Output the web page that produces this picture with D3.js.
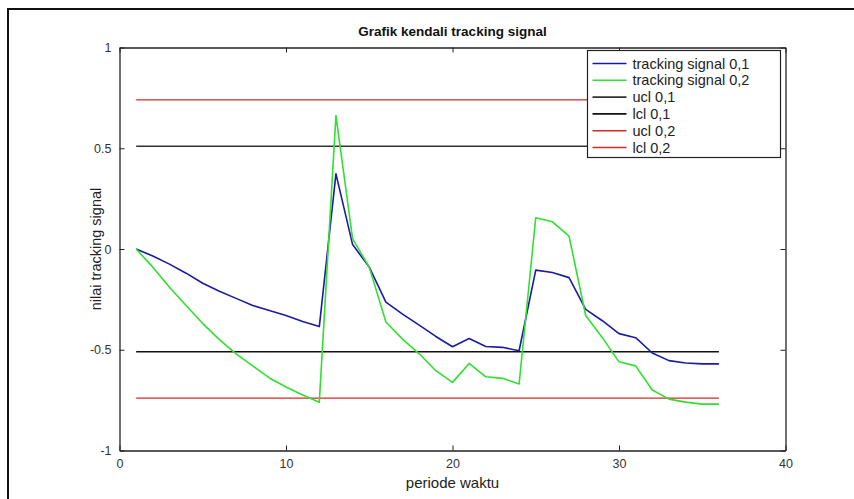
<!DOCTYPE html>
<html>
<head>
<meta charset="utf-8">
<script src="https://cdn.jsdelivr.net/npm/d3@7"></script>
<style>
  body { margin: 0; background: #fff; }
  svg { display: block; font-family: "Liberation Sans", Arial, sans-serif; }
</style>
</head>
<body>
<svg id="chart" width="854" height="499"></svg>
<script>
// periods 1..36
const periods = d3.range(1, 37);

// tracking signal alpha 0,1
const ts01 = [0, -0.035, -0.075, -0.12, -0.17, -0.21, -0.245, -0.28, -0.305, -0.33, -0.36, -0.385,
  0.373, 0.022, -0.09, -0.264, -0.323, -0.378, -0.434, -0.485, -0.444, -0.484, -0.488, -0.505,
  -0.105, -0.117, -0.142, -0.30, -0.356, -0.42, -0.44, -0.516, -0.554, -0.566, -0.57, -0.57];

// tracking signal alpha 0,2
const ts02 = [0, -0.09, -0.19, -0.28, -0.37, -0.45, -0.52, -0.58, -0.64, -0.685, -0.725, -0.76,
  0.662, 0.05, -0.09, -0.362, -0.447, -0.52, -0.604, -0.662, -0.568, -0.634, -0.642, -0.67,
  0.155, 0.135, 0.064, -0.33, -0.44, -0.56, -0.58, -0.70, -0.745, -0.76, -0.77, -0.77];

// control limits
const limitNames = ["ucl 0,1", "lcl 0,1", "ucl 0,2", "lcl 0,2"];
const limitValues = [0.51, -0.51, 0.74, -0.74];

const seriesNames = ["tracking signal 0,1", "tracking signal 0,2"];
const xTicks = [0, 10, 20, 30, 40];
const yTicks = [-1, -0.5, 0, 0.5, 1];

const colors = {
  "tracking signal 0,1": "#1a1aa6",
  "tracking signal 0,2": "#2fe02f",
  "ucl 0,1": "#333333",
  "lcl 0,1": "#111111",
  "ucl 0,2": "#d42a2a",
  "lcl 0,2": "#d42a2a"
};

const svg = d3.select("#chart");

// outer frame (runs off the right and bottom edges)
svg.append("rect")
  .attr("x", 8).attr("y", 9)
  .attr("width", 900).attr("height", 600)
  .attr("fill", "none").attr("stroke", "#111").attr("stroke-width", 2);

const plotL = 119.5, plotR = 785.5, plotT = 47.5, plotB = 450.5;

const x = d3.scaleLinear().domain([0, 40]).range([plotL, plotR]);
const y = d3.scaleLinear().domain([-1, 1]).range([plotB, plotT]);

// title
svg.append("text")
  .attr("x", (plotL + plotR) / 2)
  .attr("y", 36)
  .attr("text-anchor", "middle")
  .attr("font-size", "13.5px")
  .attr("font-weight", "bold")
  .attr("fill", "#111")
  .text("Grafik kendali tracking signal");

// axes, ticks inside like the Octave box
const axisBottom = svg.append("g")
  .attr("transform", "translate(0," + plotB + ")")
  .call(d3.axisBottom(x).tickValues(xTicks).tickSizeInner(-5).tickSizeOuter(0).tickPadding(9));
const axisLeft = svg.append("g")
  .attr("transform", "translate(" + plotL + ",0)")
  .call(d3.axisLeft(y).tickValues(yTicks).tickSizeInner(-5).tickSizeOuter(0).tickPadding(8)
    .tickFormat(d => d === 0 ? "0" : String(d)));
const axisTop = svg.append("g")
  .attr("transform", "translate(0," + plotT + ")")
  .call(d3.axisTop(x).tickValues(xTicks).tickSizeInner(-5).tickSizeOuter(0).tickFormat(""));
const axisRight = svg.append("g")
  .attr("transform", "translate(" + plotR + ",0)")
  .call(d3.axisRight(y).tickValues(yTicks).tickSizeInner(-5).tickSizeOuter(0).tickFormat(""));

[axisBottom, axisLeft, axisTop, axisRight].forEach(g => {
  g.select(".domain").attr("stroke", "#222").attr("stroke-width", 1.3);
  g.selectAll(".tick line").attr("stroke", "#222");
  g.selectAll(".tick text").attr("font-size", "12.5px").attr("fill", "#333")
    .attr("font-family", "\"Liberation Sans\", Arial, sans-serif");
});

// axis labels
svg.append("text")
  .attr("x", (plotL + plotR) / 2)
  .attr("y", 488)
  .attr("text-anchor", "middle")
  .attr("font-size", "15px")
  .attr("fill", "#222")
  .text("periode waktu");

svg.append("text")
  .attr("transform", "translate(101," + (plotT + plotB) / 2 + ") rotate(-90)")
  .attr("text-anchor", "middle")
  .attr("font-size", "14.5px")
  .attr("fill", "#222")
  .text("nilai tracking signal");

const line = d3.line().x((d, i) => x(periods[i])).y(d => y(d));

// control limit lines
limitNames.forEach((name, i) => {
  svg.append("path")
    .datum(periods.map(() => limitValues[i]))
    .attr("d", line)
    .attr("fill", "none")
    .attr("stroke", colors[name])
    .attr("stroke-width", 1.3);
});

// tracking signal lines
[ts01, ts02].forEach((vals, i) => {
  svg.append("path")
    .datum(vals)
    .attr("d", line)
    .attr("fill", "none")
    .attr("stroke", colors[seriesNames[i]])
    .attr("stroke-width", 1.6)
    .attr("stroke-linejoin", "round");
});

// legend
const legendNames = seriesNames.concat(limitNames);
const legend = svg.append("g").attr("transform", "translate(587.5,50.5)");
legend.append("rect")
  .attr("width", 193).attr("height", 107)
  .attr("fill", "#fff").attr("stroke", "#222").attr("stroke-width", 1.2);
legendNames.forEach((name, i) => {
  const ly = 13 + i * 16.8;
  legend.append("line")
    .attr("x1", 5).attr("x2", 39)
    .attr("y1", ly).attr("y2", ly)
    .attr("stroke", colors[name]).attr("stroke-width", 1.6);
  legend.append("text")
    .attr("x", 45).attr("y", ly + 5)
    .attr("font-size", "14.5px")
    .attr("fill", "#222")
    .text(name);
});
</script>
</body>
</html>
